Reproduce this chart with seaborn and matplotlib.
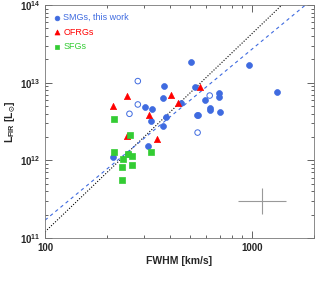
import numpy as np
import pandas as pd
import matplotlib
matplotlib.use('Agg')
import matplotlib.pyplot as plt
import matplotlib.ticker as mticker
import seaborn as sns

# SMGs, this work (filled)
smg_fwhm = [212, 251, 315, 303, 328, 324, 372, 377, 370, 386, 454, 509, 531, 543, 550,
            592, 626, 626, 697, 697, 705, 967, 1327]
smg_lfir = [1.11e12, 1.19e12, 1.52e12, 4.84e12, 4.56e12, 3.23e12, 6.38e12, 9.1e12, 2.75e12,
            3.63e12, 5.56e12, 1.86e13, 8.7e12, 3.82e12, 3.82e12, 6.08e12, 4.75e12, 4.43e12,
            7.48e12, 6.64e12, 4.17e12, 1.68e13, 7.64e12]
# SMGs, this work (open)
smg_open_fwhm = [281, 281, 256, 626, 547]
smg_open_lfir = [1.05e13, 5.25e12, 3.98e12, 6.84e12, 2.28e12]
# OFRGs
ofrg_fwhm = [212, 250, 318, 248, 348, 409, 439, 560]
ofrg_lfir = [4.99e12, 6.71e12, 3.82e12, 2.09e12, 1.89e12, 7.05e12, 5.56e12, 8.77e12]
# SFGs
sfg_fwhm = [215, 215, 258, 252, 237, 262, 235, 262, 235, 324]
sfg_lfir = [3.46e12, 1.27e12, 2.11e12, 1.2e12, 1.05e12, 1.14e12, 8.24e11, 8.8e11, 5.6e11, 1.27e12]

blue = '#3f6be0'
red = '#ff0000'
green = '#33cc33'

sns.set_style('ticks')
plt.rcParams['font.family'] = ['Liberation Sans', 'DejaVu Sans']
plt.rcParams['font.weight'] = 'bold'
plt.rcParams['mathtext.default'] = 'regular'

fig = plt.figure(figsize=(3.22, 2.85), dpi=100)
ax = fig.add_axes([0.14, 0.165, 0.835, 0.817])
ax.set_xscale('log')
ax.set_yscale('log')

# fits
xx = np.logspace(2, np.log10(2000), 50)
ax.plot(xx, 10**(2.55 * np.log10(xx) + 5.98), ls=(0, (1, 1.5)), color='black', lw=0.8)
ax.plot(xx, 10**(2.2 * np.log10(xx) + 6.83), ls=(0, (3, 3)), color=blue, lw=0.8)

smg = pd.DataFrame({'fwhm': smg_fwhm, 'lfir': smg_lfir})
ofrg = pd.DataFrame({'fwhm': ofrg_fwhm, 'lfir': ofrg_lfir})
sfg = pd.DataFrame({'fwhm': sfg_fwhm, 'lfir': sfg_lfir})

sns.scatterplot(data=smg, x='fwhm', y='lfir', color=blue, marker='o', s=18,
                edgecolor=blue, linewidth=0.5, ax=ax, label='SMGs, this work', zorder=3)
ax.scatter(smg_open_fwhm, smg_open_lfir, facecolors='none', edgecolors=blue, s=16,
           linewidths=0.7, zorder=3)
sns.scatterplot(data=ofrg, x='fwhm', y='lfir', color=red, marker='^', s=20,
                edgecolor=red, linewidth=0.5, ax=ax, label='OFRGs', zorder=3)
sns.scatterplot(data=sfg, x='fwhm', y='lfir', color=green, marker='s', s=18,
                edgecolor=green, linewidth=0.5, ax=ax, label='SFGs', zorder=3)

# typical error bar
ax.errorbar([1119], [3e11], xerr=[[1119 - 10**2.932], [10**3.165 - 1119]],
            yerr=[[3e11 - 10**11.305], [10**11.65 - 3e11]], fmt='none',
            ecolor='#999999', elinewidth=0.8)

ax.set_xlim(100, 2000)
ax.set_ylim(1e11, 1e14)
ax.xaxis.set_major_formatter(mticker.FuncFormatter(lambda v, p: f'{v:.0f}'))
ax.xaxis.set_minor_formatter(mticker.NullFormatter())
ax.tick_params(which='both', direction='in', top=True, right=True, labelsize=7, width=0.5)
ax.tick_params(which='major', length=5)
ax.tick_params(which='minor', length=2.5)
for sp in ax.spines.values():
    sp.set_linewidth(0.6)
    sp.set_color('#777777')
ax.set_xlabel('FWHM [km/s]', fontsize=7.5, fontweight='bold', labelpad=2)
ax.set_ylabel(r'L$_{FIR}$ [L$_{\odot}$]', fontsize=7.5, fontweight='bold', labelpad=1)

leg = ax.legend(loc='upper left', frameon=False, fontsize=6.5, handletextpad=0.3,
                borderaxespad=0.5, labelspacing=0.6, handlelength=0.8, markerscale=0.8)
for txt, col in zip(leg.get_texts(), [blue, red, green]):
    txt.set_color(col)
    txt.set_fontweight('normal')

fig.savefig('out.png', dpi=100)
